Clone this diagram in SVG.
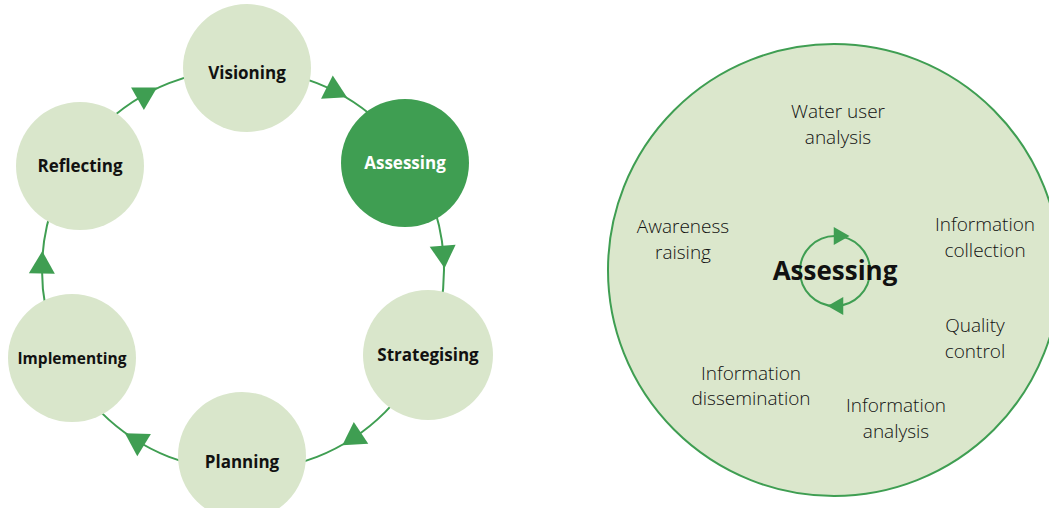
<svg xmlns="http://www.w3.org/2000/svg" xmlns:xlink="http://www.w3.org/1999/xlink" width="1049" height="508" viewBox="0 0 1049 508">
<style>
.node{fill:#d9e6cb}
.active{fill:#3f9e52}
.ring{fill:none;stroke:#3f9e52;stroke-width:2}
.arrow{fill:#3f9e52}
.lbl{font-family:"Open Sans","Liberation Sans",sans-serif;font-weight:700;font-size:17px;fill:#111;text-anchor:middle}
.lblw{fill:#fff}
.sub{font-family:"Open Sans","Liberation Sans",sans-serif;font-weight:300;font-size:19px;fill:#111;text-anchor:middle}
.big{font-family:"Open Sans","Liberation Sans",sans-serif;font-weight:700;font-size:26px;fill:#111;text-anchor:middle}
</style>
<defs>
<path id="tri" d="M15 0 L-7.5 -13 L-7.5 13 Z"/>
</defs>
<g id="connectors">
<circle class="ring" cx="243" cy="270" r="201"/>
<use xlink:href="#tri" class="arrow" transform="translate(144,95) rotate(-29.5)"/>
<use xlink:href="#tri" class="arrow" transform="translate(333.6,90.6) rotate(26.8)"/>
<use xlink:href="#tri" class="arrow" transform="translate(443.3,253.2) rotate(85.2)"/>
<use xlink:href="#tri" class="arrow" transform="translate(354.8,437) rotate(146.2)"/>
<use xlink:href="#tri" class="arrow" transform="translate(137.7,441.2) rotate(211.6)"/>
<use xlink:href="#tri" class="arrow" transform="translate(42,266.1) rotate(271.1)"/>
</g>
<g id="visioning"><circle class="node" cx="247" cy="68" r="64"/><text class="lbl" x="247" y="79">Visioning</text></g>
<g id="assessing"><circle class="active" cx="405" cy="163" r="64"/><text class="lbl lblw" x="405" y="169">Assessing</text></g>
<g id="strategising"><circle class="node" cx="428" cy="355" r="65"/><text class="lbl" x="428" y="361">Strategising</text></g>
<g id="planning"><circle class="node" cx="242" cy="456" r="64"/><text class="lbl" x="242" y="468">Planning</text></g>
<g id="implementing"><circle class="node" cx="72" cy="358" r="64"/><text class="lbl" x="72" y="364" style="font-size:15.5px">Implementing</text></g>
<g id="reflecting"><circle class="node" cx="80" cy="166" r="64"/><text class="lbl" x="80" y="172">Reflecting</text></g>
<g id="detail">
<circle cx="834" cy="270" r="226" fill="#dbe7cc" stroke="#3f9e52" stroke-width="2"/>
<circle class="ring" cx="835" cy="271" r="35"/>
<use xlink:href="#tri" class="arrow" transform="translate(839,236) scale(0.7)"/>
<use xlink:href="#tri" class="arrow" transform="translate(838,306) rotate(180) scale(0.7)"/>
<text class="big" x="835" y="280">Assessing</text>
<text class="sub" x="838" y="118">Water user</text>
<text class="sub" x="838" y="144">analysis</text>
<text class="sub" x="683" y="233">Awareness</text>
<text class="sub" x="683" y="259">raising</text>
<text class="sub" x="985" y="231">Information</text>
<text class="sub" x="985" y="257">collection</text>
<text class="sub" x="975" y="332">Quality</text>
<text class="sub" x="975" y="358">control</text>
<text class="sub" x="751" y="380">Information</text>
<text class="sub" x="751" y="405">dissemination</text>
<text class="sub" x="896" y="412">Information</text>
<text class="sub" x="896" y="438">analysis</text>
</g>
</svg>
